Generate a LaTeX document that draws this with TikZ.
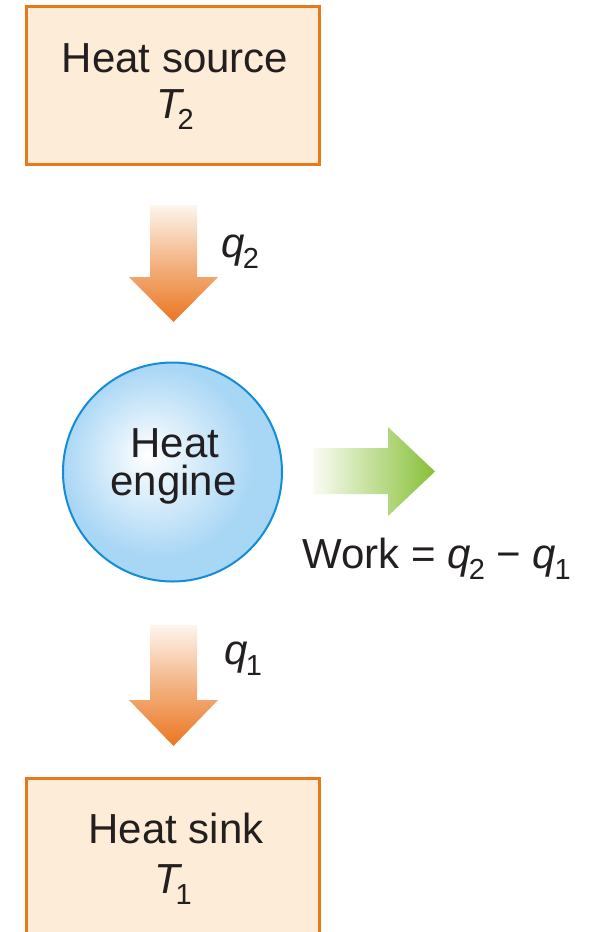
\documentclass[tikz,border=0pt]{standalone}
\usepackage{fontspec}
\setmainfont{Liberation Sans}
\definecolor{boxfill}{RGB}{253,237,216}
\definecolor{boxline}{RGB}{232,120,28}
\definecolor{engline}{RGB}{20,140,215}
\definecolor{engfill}{RGB}{168,214,245}
\definecolor{arrtop}{RGB}{253,245,237}
\definecolor{arrmid}{RGB}{243,178,130}
\definecolor{arrbot}{RGB}{234,118,32}
\definecolor{grnL}{RGB}{250,252,244}
\definecolor{grnR}{RGB}{135,192,55}
\definecolor{txt}{RGB}{35,31,32}
\pgfdeclareradialshading{engineball}{\pgfpoint{-6bp}{4bp}}{color(0bp)=(white); color(22bp)=(engfill); color(25bp)=(engfill); color(50bp)=(engfill)}
\newcommand\sbs[1]{\raisebox{-0.28em}{\fontsize{29}{29}\selectfont #1}}
\newcommand\VarT[1]{\textit{T}\kern-0.16em\sbs{#1}}
\newcommand\VarQ[1]{\textit{q}\kern-0.04em\sbs{#1}}
\tikzset{
  lbl/.style={font=\fontsize{42}{46}\selectfont, text=txt, inner sep=0pt},
  heatbox/.style={draw=boxline, fill=boxfill, line width=3pt, inner sep=0pt},
  engine/.style={circle, draw=engline, line width=2pt, shade, shading=engineball, inner sep=0pt, minimum size=219pt},
  heatarrow/.style={shade, top color=arrtop, bottom color=arrbot, middle color=arrmid},
  workarrow/.style={shade, left color=grnL, right color=grnR}
}
\begin{document}
\begin{tikzpicture}[x=1pt,y=-1pt]
\useasboundingbox (0,0) rectangle (591,932);
\clip (0,0) rectangle (591,932);
% heat source
\node[heatbox, minimum width=293pt, minimum height=158pt] (source) at (173,85.5) {};
\node[lbl, anchor=base] (sourcename) at (175,72) {Heat source};
\node[lbl, anchor=base] (sourceT) at (175,118) {\VarT{2}};
% arrow q2
\path[heatarrow] (150,205) -- (197,205) -- (197,277) -- (218,277) -- (173.5,322) -- (129,277) -- (150,277) -- cycle;
\node[lbl, anchor=base west] (q2) at (221,257) {\VarQ{2}};
% engine
\node[engine] (eng) at (172.5,472) {};
\node[lbl, anchor=base] (engname1) at (175,457) {Heat};
\node[lbl, anchor=base] (engname2) at (173.5,495) {engine};
% work arrow
\path[workarrow] (313,448) -- (388,448) -- (388,427) -- (435,471.5) -- (388,516) -- (388,494) -- (313,494) -- cycle;
\node[lbl, anchor=base west] (work) at (302,568) {Work = \VarQ{2} − \VarQ{1}};
% arrow q1
\path[heatarrow] (150,625) -- (197,625) -- (197,700) -- (218,700) -- (173.5,746) -- (129,700) -- (150,700) -- cycle;
\node[lbl, anchor=base west] (q1) at (224,664) {\VarQ{1}};
% heat sink
\node[heatbox, minimum width=293pt, minimum height=221.5pt] (sink) at (173,889.25) {};
\node[lbl, anchor=base] (sinkname) at (176,843) {Heat sink};
\node[lbl, anchor=base] (sinkT) at (173,893) {\VarT{1}};
\end{tikzpicture}
\end{document}
